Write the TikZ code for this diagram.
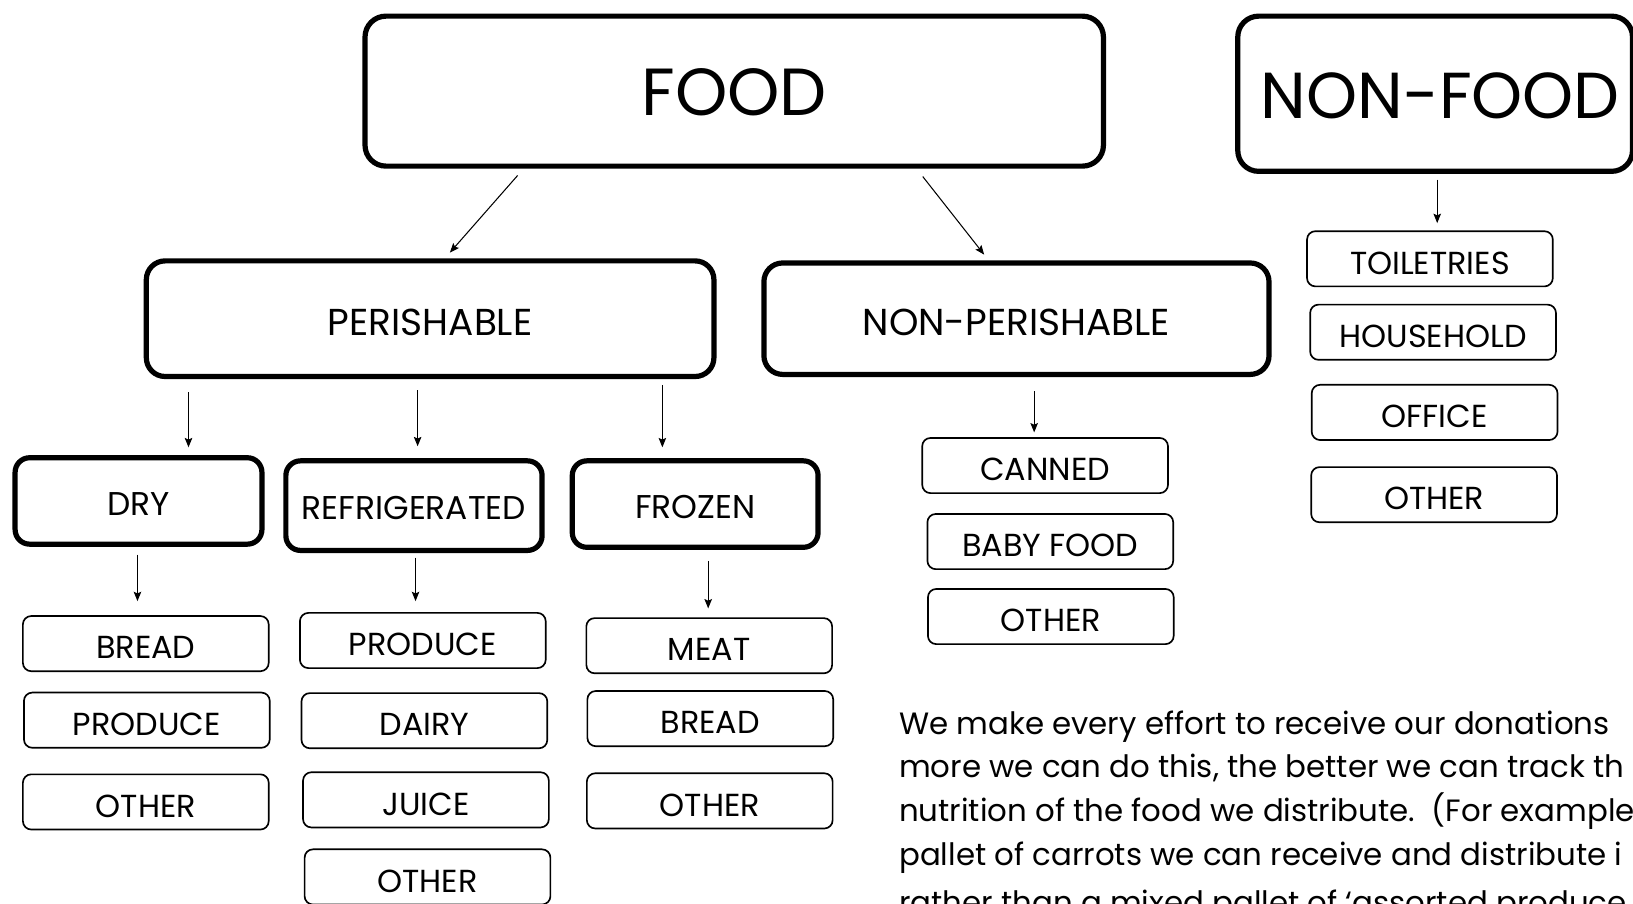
\documentclass[tikz,border=0pt]{standalone}
\usepackage{fontspec}
\setmainfont{Poppins}
\usetikzlibrary{arrows,arrows.meta,positioning,calc}
\tikzset{
    %Define standard arrow tip
    >={Stealth[length=4.5pt,width=3.6pt,inset=0.8pt]},
    %Define styles for boxes
    topbox/.style={
           rectangle,
           rounded corners=10pt,
           draw=black, line width=2.5pt,
           inner sep=0pt,
           text height=23.4pt, text depth=0pt,
           font=\fontsize{32}{38}\selectfont,
           text centered},
    groupbox/.style={
           rectangle,
           rounded corners=9pt,
           draw=black, line width=2.5pt,
           inner sep=0pt,
           text height=16.2pt, text depth=0pt,
           font=\fontsize{18}{22}\selectfont,
           text centered},
    storebox/.style={
           rectangle,
           rounded corners=7pt,
           draw=black, line width=2.5pt,
           inner sep=0pt,
           text height=13.5pt, text depth=0pt,
           font=\fontsize{15.8}{19}\selectfont,
           text centered},
    itembox/.style={
           rectangle,
           rounded corners=4pt,
           draw=black, line width=0.8pt,
           inner sep=0pt,
           minimum width=118pt,
           minimum height=26.5pt,
           text height=14.6pt, text depth=0pt,
           font=\fontsize{15.3}{19}\selectfont,
           text centered},
    % Define arrow style
    pil/.style={
           ->,
           line width=0.5pt},
    textline/.style={
           anchor=base west,
           inner sep=0pt,
           font=\fontsize{14.8}{18}\selectfont}
}

\begin{document}
\begin{tikzpicture}[x=0.5pt,y=-0.5pt]
\useasboundingbox (0,0) rectangle (1568,868);
\clip (0,0) rectangle (1568,868);

 %main nodes
\node[topbox, minimum width=354.5pt, minimum height=72pt] (food) at (705,87.5) {FOOD};
\node[topbox, minimum width=189.5pt, minimum height=74.5pt, font=\fontsize{31.2}{37}\selectfont] (nonfood) at (1378,90) {\hspace*{5pt}NON-FOOD};

\node[groupbox, minimum width=272.5pt, minimum height=55.5pt] (perishable) at (413,306) {PERISHABLE};
\node[groupbox, minimum width=242.5pt, minimum height=53.5pt] (nonperishable) at (976,306) {NON-PERISHABLE};

\node[storebox, minimum width=118.5pt, minimum height=41.5pt] (dry) at (133,481) {DRY};
\node[storebox, minimum width=123pt, minimum height=43pt] (refrigerated) at (397.5,485.5) {REFRIGERATED};
\node[storebox, minimum width=118pt, minimum height=41.5pt] (frozen) at (667.5,484) {FROZEN};

 %items
\node[itembox] (drybread) at (140,618) {BREAD};
\node[itembox] (dryproduce) at (141,691.5) {PRODUCE};
\node[itembox] (dryother) at (140,770) {OTHER};

\node[itembox] (refproduce) at (406,615) {PRODUCE};
\node[itembox] (refdairy) at (407.5,692) {DAIRY};
\node[itembox] (refjuice) at (409,768) {JUICE};
\node[itembox] (refother) at (410.5,842) {OTHER};

\node[itembox] (frzmeat) at (681,620) {MEAT};
\node[itembox] (frzbread) at (682,690) {BREAD};
\node[itembox] (frzother) at (681.5,769) {OTHER};

\node[itembox] (canned) at (1003.5,447) {CANNED};
\node[itembox] (babyfood) at (1008.5,520) {BABY FOOD};
\node[itembox] (npother) at (1009,592) {OTHER};

\node[itembox] (toiletries) at (1373,248.5) {TOILETRIES};
\node[itembox] (household) at (1376,319) {HOUSEHOLD};
\node[itembox] (office) at (1377.5,396) {OFFICE};
\node[itembox] (nfother) at (1377,475) {OTHER};

 %arrows
\draw[pil] ($(food.south)+(-208,6.5)$) -- ($(perishable.north)+(19,-5.5)$);
\draw[pil] ($(food.south)+(181,7.5)$) -- ($(nonperishable.north)+(-31,-5.5)$);
\draw[pil] ($(perishable.south)+(-232,12.5)$) -- ($(dry.north)+(48,-7.5)$);
\draw[pil] ($(perishable.south)+(-12,10.5)$) -- ($(refrigerated.north)+(3.5,-11.5)$);
\draw[pil] ($(perishable.south)+(223,5.5)$) -- ($(frozen.north)+(-31.5,-10.5)$);
\draw[pil] ($(nonperishable.south)+(17,13.5)$) -- ($(canned.north)+(-10.5,-4.5)$);
\draw[pil] ($(nonfood.south)+(2,5.5)$) -- ($(toiletries.north)+(7,-7)$);
\draw[pil] ($(dry.south)+(-1,7.5)$) -- ($(drybread.north)+(-8,-13.5)$);
\draw[pil] ($(refrigerated.south)+(1.5,4.5)$) -- ($(refproduce.north)+(-7,-10.5)$);
\draw[pil] ($(frozen.south)+(12.5,10.5)$) -- ($(frzmeat.north)+(-1,-8.5)$);

 %note
\node[textline] (note1) at (863,705) {We make every effort to receive our donations};
\node[textline] (note2) at (863,747) {more we can do this, the better we can track th};
\node[textline] (note3) at (863,789) {nutrition of the food we distribute.\ \ (For example};
\node[textline] (note4) at (863,831) {pallet of carrots we can receive and distribute i};
\node[textline] (note5) at (863,877) {rather than a mixed pallet of ‘assorted produce};

\end{tikzpicture}
\end{document}
